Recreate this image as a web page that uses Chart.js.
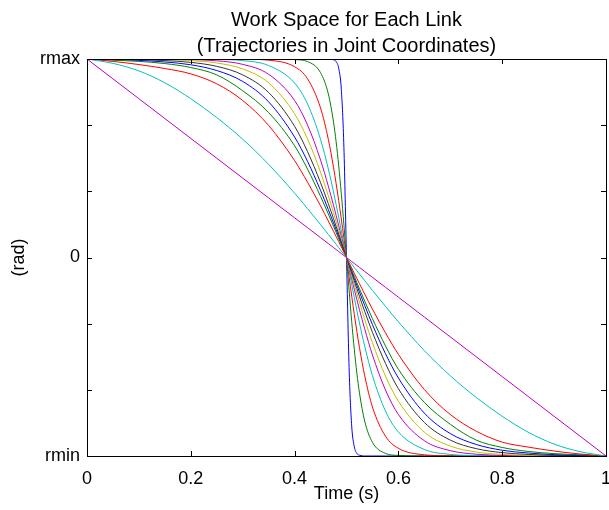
<!DOCTYPE html>
<html>
<head>
<meta charset="utf-8">
<script src="https://cdn.jsdelivr.net/npm/chart.js@4.4.1/dist/chart.umd.min.js"></script>
<style>
  html, body { margin: 0; padding: 0; background: #fff; }
  canvas { display: block; }
</style>
</head>
<body>
<canvas id="grafico" width="609" height="510"></canvas>
<script>
// tempo (s) - eixo x
const timeS = [0, 0.05, 0.1, 0.15, 0.2, 0.25, 0.3, 0.35, 0.4, 0.425, 0.45, 0.465, 0.475, 0.48, 0.485, 0.49, 0.495, 0.5,
  0.505, 0.51, 0.515, 0.52, 0.525, 0.535, 0.55, 0.575, 0.6, 0.65, 0.7, 0.75, 0.8, 0.85, 0.9, 0.95, 1];

// trajetorias, da mais suave (linear) ate a mais abrupta
const traj01 = [1, 0.9, 0.8, 0.7, 0.6, 0.5, 0.4, 0.3, 0.2, 0.15, 0.1, 0.07, 0.05, 0.04, 0.03, 0.02, 0.01, 0,
  -0.01, -0.02, -0.03, -0.04, -0.05, -0.07, -0.1, -0.15, -0.2, -0.3, -0.4, -0.5, -0.6, -0.7, -0.8, -0.9, -1];
const traj02 = [1, 0.978, 0.94, 0.88, 0.8, 0.705, 0.596, 0.469, 0.324, 0.246, 0.166, 0.116, 0.083, 0.067, 0.05, 0.033, 0.017, 0,
  -0.017, -0.033, -0.05, -0.067, -0.083, -0.116, -0.166, -0.246, -0.324, -0.469, -0.596, -0.705, -0.8, -0.88, -0.94, -0.978, -1];
const traj03 = [1, 0.988, 0.972, 0.952, 0.925, 0.875, 0.791, 0.665, 0.488, 0.379, 0.26, 0.184, 0.132, 0.106, 0.08, 0.053, 0.027, 0,
  -0.027, -0.053, -0.08, -0.106, -0.132, -0.184, -0.26, -0.379, -0.488, -0.665, -0.791, -0.875, -0.93, -0.955, -0.975, -0.99, -1];
const traj04 = [1, 0.994, 0.988, 0.977, 0.957, 0.92, 0.84, 0.73, 0.563, 0.445, 0.308, 0.219, 0.158, 0.127, 0.095, 0.064, 0.032, 0,
  -0.032, -0.064, -0.095, -0.127, -0.158, -0.219, -0.308, -0.445, -0.563, -0.73, -0.84, -0.92, -0.957, -0.977, -0.988, -0.994, -1];
const traj05 = [1, 0.997, 0.993, 0.985, 0.971, 0.942, 0.887, 0.784, 0.607, 0.484, 0.338, 0.241, 0.174, 0.14, 0.105, 0.07, 0.035, 0,
  -0.035, -0.07, -0.105, -0.14, -0.174, -0.241, -0.338, -0.484, -0.607, -0.784, -0.887, -0.942, -0.971, -0.985, -0.993, -0.997, -1];
const traj06 = [1, 0.998, 0.997, 0.992, 0.983, 0.963, 0.92, 0.831, 0.661, 0.533, 0.377, 0.271, 0.196, 0.157, 0.118, 0.079, 0.04, 0,
  -0.04, -0.079, -0.118, -0.157, -0.196, -0.271, -0.377, -0.533, -0.661, -0.831, -0.92, -0.963, -0.983, -0.992, -0.997, -0.998, -1];
const traj07 = [1, 1, 0.999, 0.997, 0.992, 0.98, 0.95, 0.88, 0.724, 0.597, 0.429, 0.311, 0.225, 0.181, 0.137, 0.092, 0.046, 0,
  -0.046, -0.092, -0.137, -0.181, -0.225, -0.311, -0.429, -0.597, -0.724, -0.88, -0.95, -0.98, -0.992, -0.997, -0.999, -1, -1];
const traj08 = [1, 1, 1, 0.999, 0.997, 0.991, 0.973, 0.923, 0.791, 0.667, 0.491, 0.359, 0.263, 0.212, 0.16, 0.107, 0.054, 0,
  -0.054, -0.107, -0.16, -0.212, -0.263, -0.359, -0.491, -0.667, -0.791, -0.923, -0.973, -0.991, -0.997, -0.999, -1, -1, -1];
const traj09 = [1, 1, 1, 1, 1, 0.998, 0.992, 0.967, 0.879, 0.773, 0.595, 0.446, 0.33, 0.267, 0.202, 0.136, 0.068, 0,
  -0.068, -0.136, -0.202, -0.267, -0.33, -0.446, -0.595, -0.773, -0.879, -0.967, -0.992, -0.998, -1, -1, -1, -1, -1];
const traj10 = [1, 1, 1, 1, 1, 1, 0.999, 0.994, 0.961, 0.9, 0.753, 0.595, 0.454, 0.373, 0.286, 0.194, 0.098, 0,
  -0.098, -0.194, -0.286, -0.373, -0.454, -0.595, -0.753, -0.9, -0.961, -0.994, -0.999, -1, -1, -1, -1, -1, -1];
const traj11 = [1, 1, 1, 1, 1, 1, 1, 1, 0.997, 0.987, 0.931, 0.824, 0.682, 0.583, 0.462, 0.322, 0.165, 0,
  -0.165, -0.322, -0.462, -0.583, -0.682, -0.824, -0.931, -0.987, -0.997, -1, -1, -1, -1, -1, -1, -1, -1];
const traj12 = [1, 1, 1, 1, 1, 1, 1, 1, 1, 1, 1, 1, 0.996, 0.987, 0.953, 0.848, 0.555, 0,
  -0.555, -0.848, -0.953, -0.987, -0.996, -1, -1, -1, -1, -1, -1, -1, -1, -1, -1, -1, -1];

const trajetorias = [traj01, traj02, traj03, traj04, traj05, traj06, traj07, traj08, traj09, traj10, traj11, traj12];
const cores = ['#bf00bf', '#00bfbf', '#ff0000', '#008000', '#0000ff', '#333333',
  '#bfbf00', '#bf00bf', '#00bfbf', '#ff0000', '#008000', '#0000ff'];

const xTickValues = [0, 0.2, 0.4, 0.6, 0.8, 1];
const xTickLabels = ['0', '0.2', '0.4', '0.6', '0.8', '1'];
const yTickValues = [-1, -2 / 3, -1 / 3, 0, 1 / 3, 2 / 3, 1];
const yTickLabels = ['rmin', '', '', '0', '', '', 'rmax'];

const fonte = "'Liberation Sans', Arial, Helvetica, sans-serif";

// moldura e marcas internas no estilo matlab
const moldura = {
    id: 'moldura',
    afterDraw(chart) {
        const { ctx, chartArea: a, scales } = chart;
        const tam = 5;
        ctx.save();
        ctx.strokeStyle = '#000';
        ctx.lineWidth = 1;
        ctx.beginPath();
        xTickValues.forEach(v => {
            const px = Math.round(scales.x.getPixelForValue(v)) + 0.5;
            ctx.moveTo(px, a.bottom); ctx.lineTo(px, a.bottom - tam);
            ctx.moveTo(px, a.top); ctx.lineTo(px, a.top + tam);
        });
        yTickValues.forEach(v => {
            const py = Math.round(scales.y.getPixelForValue(v)) + 0.5;
            ctx.moveTo(a.left, py); ctx.lineTo(a.left + tam, py);
            ctx.moveTo(a.right, py); ctx.lineTo(a.right - tam, py);
        });
        ctx.stroke();
        ctx.strokeRect(Math.round(a.left) + 0.5, Math.round(a.top) + 0.5,
            Math.round(a.right - a.left), Math.round(a.bottom - a.top));
        ctx.restore();
    }
};

const ctx = document.getElementById('grafico').getContext('2d');
new Chart(ctx, {
    type: 'line',
    data: {
        datasets: trajetorias.map((serie, i) => ({
            data: serie.map((v, k) => ({ x: timeS[k], y: v })),
            borderColor: cores[i],
            borderWidth: 1,
            pointRadius: 0,
            fill: false,
            cubicInterpolationMode: 'monotone'
        }))
    },
    options: {
        responsive: false,
        animation: false,
        devicePixelRatio: 1,
        layout: { padding: { left: 0, right: 3, top: 0, bottom: 0 } },
        plugins: {
            legend: { display: false },
            tooltip: { enabled: false },
            title: {
                display: true,
                fullSize: false,
                text: ['Work Space for Each Link', '(Trajectories in Joint Coordinates)'],
                color: '#000',
                font: { family: fonte, size: 20, weight: 'normal', lineHeight: 1.3 },
                padding: { top: 7, bottom: 0 }
            }
        },
        scales: {
            x: {
                type: 'linear',
                min: 0,
                max: 1,
                afterBuildTicks: s => { s.ticks = xTickValues.map(v => ({ value: v })); },
                afterFit: s => { s.height = 54; s.paddingLeft = 0; s.paddingRight = 0; },
                ticks: {
                    color: '#000',
                    padding: 12,
                    maxRotation: 0,
                    autoSkip: false,
                    font: { family: fonte, size: 18 },
                    callback: (v, i) => xTickLabels[i]
                },
                grid: { drawOnChartArea: false, drawTicks: false },
                border: { display: true, color: '#000' },
                title: {
                    display: true,
                    text: 'Time (s)',
                    color: '#000',
                    font: { family: fonte, size: 18 },
                    padding: { top: 0, bottom: 5 }
                }
            },
            y: {
                type: 'linear',
                min: -1,
                max: 1,
                afterBuildTicks: s => { s.ticks = yTickValues.map(v => ({ value: v })); },
                afterFit: s => { s.width = 87; s.paddingTop = 0; s.paddingBottom = 0; },
                ticks: {
                    color: '#000',
                    padding: 7,
                    autoSkip: false,
                    font: { family: fonte, size: 18 },
                    callback: (v, i) => yTickLabels[i]
                },
                grid: { drawOnChartArea: false, drawTicks: false },
                border: { display: true, color: '#000' },
                title: {
                    display: true,
                    text: '(rad)',
                    color: '#000',
                    font: { family: fonte, size: 18 },
                    padding: { top: 8, bottom: 0 }
                }
            }
        }
    },
    plugins: [moldura]
});
</script>
</body>
</html>
